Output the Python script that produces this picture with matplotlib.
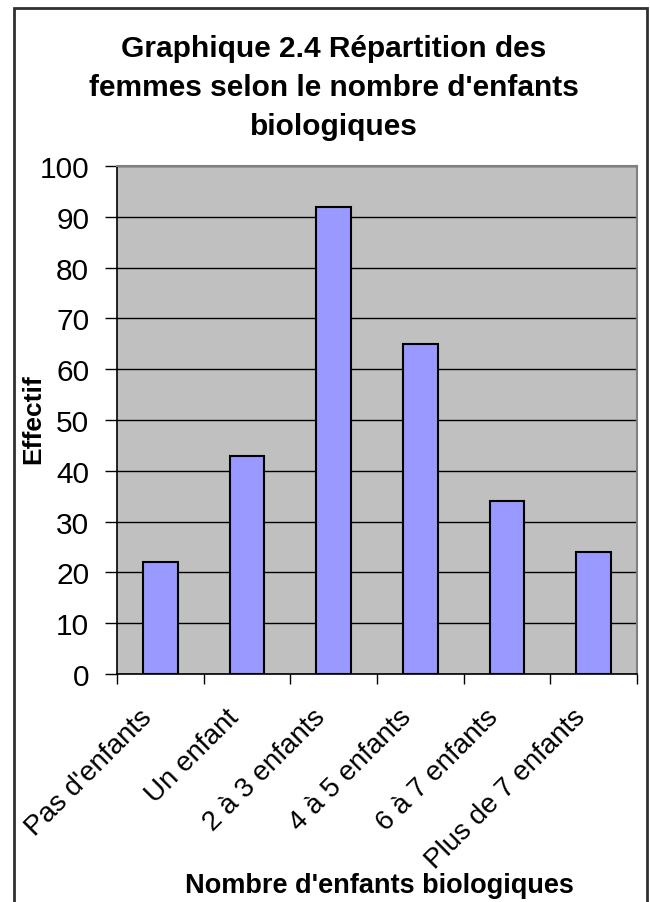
import numpy as np
import matplotlib
matplotlib.use("Agg")
import matplotlib.pyplot as plt
from matplotlib.patches import Rectangle
from matplotlib.transforms import ScaledTranslation

categories = ["Pas d'enfants", "Un enfant", "2 à 3 enfants", "4 à 5 enfants",
              "6 à 7 enfants", "Plus de 7 enfants"]
effectifs = [22, 43, 92, 65, 34, 24]
yticks = list(range(0, 101, 10))

title = "Graphique 2.4 Répartition des\nfemmes selon le nombre d'enfants\nbiologiques"
xlabel = "Nombre d'enfants biologiques"
ylabel = "Effectif"

plt.rcParams["font.family"] = ["Liberation Sans", "DejaVu Sans"]

W, H = 650, 903
fig = plt.figure(figsize=(W / 100, H / 100), dpi=100)
fig.patch.set_facecolor("white")

# chart border (open at the bottom, as in the picture)
fig.patches.append(Rectangle((14 / W, -0.05), 633 / W, 1 - 9 / H + 0.05,
                             transform=fig.transFigure, fill=False,
                             edgecolor="#303030", linewidth=2))

ax = fig.add_axes([117 / W, 1 - 675 / H, 520 / W, 508 / H])
ax.set_facecolor("#C0C0C0")

x = np.arange(len(categories))
ax.bar(x, effectifs, width=0.4, color="#9999FF", edgecolor="black",
       linewidth=1.5, zorder=3)

ax.set_xlim(-0.5, len(categories) - 0.5)
ax.set_ylim(0, 100)
ax.set_yticks(yticks)
ax.yaxis.grid(True, color="black", linewidth=1, zorder=1)
ax.set_axisbelow(True)

ax.tick_params(axis="y", direction="out", length=9, width=1, labelsize=21.5, pad=11)
ax.set_xticks(x)
ax.set_xticklabels(categories, rotation=45, ha="right", va="center",
                   rotation_mode="anchor", fontsize=20)
ax.tick_params(axis="x", which="major", length=0, pad=28)
shift = ScaledTranslation(-9 / 72, 0, fig.dpi_scale_trans)
for lab in ax.get_xticklabels():
    lab.set_transform(lab.get_transform() + shift)
ax.set_xticks(np.arange(-0.5, len(categories)), minor=True)
ax.tick_params(axis="x", which="minor", direction="out", length=7, width=1)

for side in ["top", "right"]:
    ax.spines[side].set_color("#808080")
    ax.spines[side].set_linewidth(1.5)
for side in ["left", "bottom"]:
    ax.spines[side].set_color("black")
    ax.spines[side].set_linewidth(1.2)

fig.text(334 / W, 1 - 88 / H, title, ha="center", va="center",
         fontsize=21.5, fontweight="bold", linespacing=1.5)
fig.text(379 / W, 1 - 886 / H, xlabel, ha="center", va="center",
         fontsize=19.5, fontweight="bold")
fig.text(33 / W, 1 - 419 / H, ylabel, ha="center", va="center",
         rotation=90, fontsize=19, fontweight="bold")

fig.savefig("out.png", dpi=100)
